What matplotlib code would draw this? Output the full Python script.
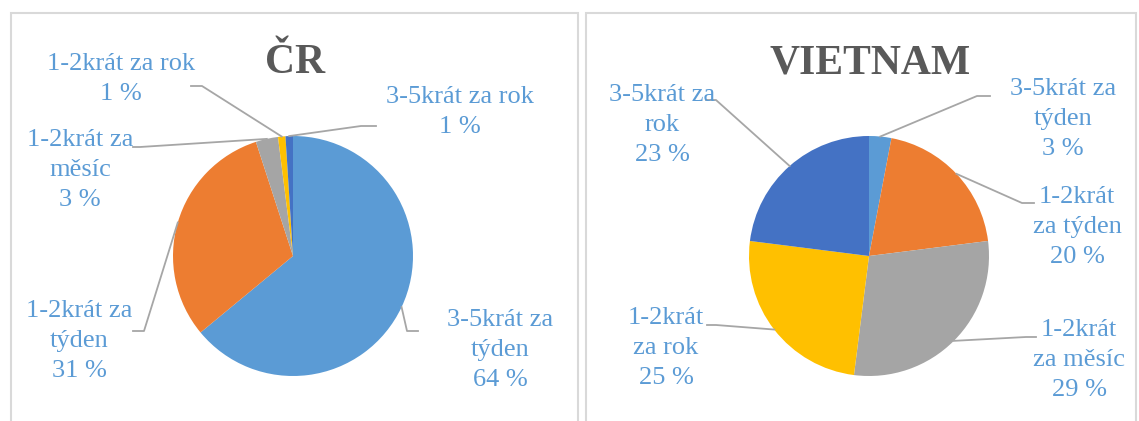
import numpy as np
import matplotlib.pyplot as plt
from matplotlib.patches import Rectangle

# =========================
# DATA
# =========================

cr_labels = ["3-5krát za\ntýden", "1-2krát za\ntýden", "1-2krát za\nměsíc",
             "1-2krát za rok", "3-5krát za rok"]
cr_values = [64, 31, 3, 1, 1]

vn_labels = ["3-5krát za\ntýden", "1-2krát\nza týden", "1-2krát\nza měsíc",
             "1-2krát\nza rok", "3-5krát za\nrok"]
vn_values = [3, 20, 29, 25, 23]

colors = ["#5B9BD5", "#ED7D31", "#A5A5A5", "#FFC000", "#4472C4"]

# =========================
# LAYOUT (pixels, y down)
# =========================

W, H = 1139, 421
R = 120

cr_center = (293, 256)
cr_text_pos = [(500, 350), (79, 341), (80, 170), (121, 79), (460, 112)]
cr_elbows = [[(418, 331), (407, 331)], [(133, 331), (144, 331)],
             [(133, 147), (140, 147)], [(191, 86), (202, 86)],
             [(376, 126), (361, 126)]]

vn_center = (869, 256)
vn_text_pos = [(1063, 119), (1077, 227), (1079, 360), (666, 348), (662, 125)]
vn_elbows = [[(990, 96), (977, 96)], [(1034, 203), (1022, 203)],
             [(1036, 337), (1026, 337)], [(707, 325), (716, 325)],
             [(706, 100), (716, 100)]]

label_color = "#5B9BD5"
line_color = "#A6A6A6"
title_color = "#595959"

plt.rcParams['font.family'] = ['Liberation Serif', 'DejaVu Serif']

fig = plt.figure(figsize=(W / 100, H / 100), dpi=100)
ax = fig.add_axes([0, 0, 1, 1])


def fy(y):
    return H - y


# panel frames
ax.add_patch(Rectangle((11, fy(430)), 567, 417, fill=False,
                       edgecolor="#D9D9D9", linewidth=1.5))
ax.add_patch(Rectangle((586, fy(430)), 550, 417, fill=False,
                       edgecolor="#D9D9D9", linewidth=1.5))


def draw_pie(values, labels, center, text_pos, elbows, title, title_x):
    cx, cy = center[0], fy(center[1])
    wedges, _ = ax.pie(values, colors=colors, startangle=90, counterclock=False,
                       center=(cx, cy), radius=R,
                       wedgeprops=dict(linewidth=0))
    total = sum(values)
    for w, v, lab, tp, el in zip(wedges, values, labels, text_pos, elbows):
        mid = np.deg2rad((w.theta1 + w.theta2) / 2)
        px = cx + R * np.cos(mid)
        py = cy + R * np.sin(mid)
        xs = [p[0] for p in el] + [px]
        ys = [fy(p[1]) for p in el] + [py]
        ax.plot(xs, ys, color=line_color, linewidth=1.3, zorder=1)
        ax.text(tp[0], fy(tp[1]), "%s\n%d %%" % (lab, round(100 * v / total)),
                ha="center", va="center", multialignment="center",
                fontsize=19, color=label_color, linespacing=1.45)
    ax.text(title_x, fy(63), title, ha="center", va="center",
            fontsize=30, fontweight="bold", color=title_color)


draw_pie(cr_values, cr_labels, cr_center, cr_text_pos, cr_elbows, "ČR", 295)
draw_pie(vn_values, vn_labels, vn_center, vn_text_pos, vn_elbows, "VIETNAM", 870)

ax.set_xlim(0, W)
ax.set_ylim(0, H)
ax.set_aspect("equal")
ax.axis("off")

fig.savefig("out.png", dpi=100)
